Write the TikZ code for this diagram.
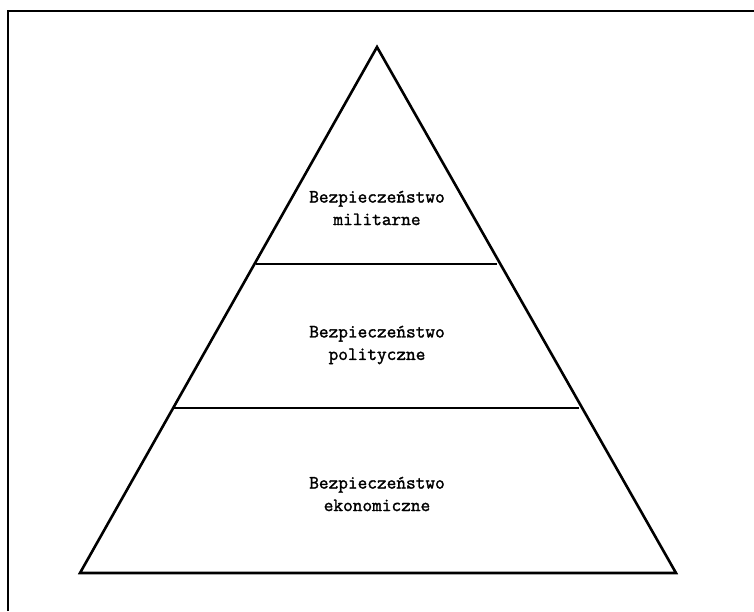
\documentclass[tikz,border=0pt]{standalone}
\usepackage{fontspec}
\newfontfamily\lblfont[FakeBold=1.6]{Latin Modern Mono}
\begin{document}
\begin{tikzpicture}[x=1pt,y=-1pt,
  tri/.style={line width=2.6pt,line join=miter},
  band/.style={line width=1.3pt},
  lbl/.style={font=\lblfont\fontsize{18.8}{22.5}\selectfont,align=center,inner sep=0pt}]
\useasboundingbox (0,0) rectangle (754,611);
\coordinate (fl) at (8,611);
\coordinate (ftl) at (8,11);
\coordinate (fr) at (754,11);
\draw[line width=2.4pt] (fl) -- (ftl) -- (fr);
\coordinate (apex) at (377,47);
\coordinate (bl) at (80,573);
\coordinate (br) at (676,573);
\draw[tri] (apex) -- (bl) -- (br) -- cycle;
\coordinate (l1a) at (256,264);
\coordinate (l1b) at (497,264);
\coordinate (l2a) at (174,408);
\coordinate (l2b) at (579,408);
\draw[band] (l1a) -- (l1b);
\draw[band] (l2a) -- (l2b);
\node[lbl] (top) at (377,208) {Bezpieczeństwo\\militarne};
\node[lbl] (mid) at (377,345) {Bezpieczeństwo\\polityczne};
\node[lbl] (bot) at (377,494) {Bezpieczeństwo\\ekonomiczne};
\end{tikzpicture}
\end{document}
